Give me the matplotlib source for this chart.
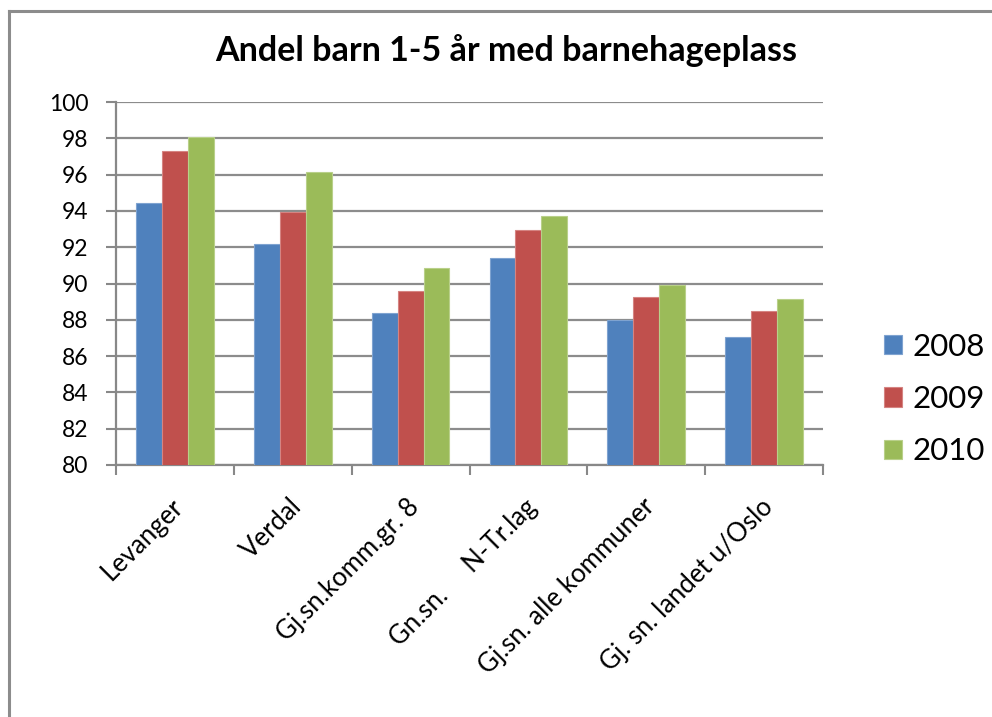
import matplotlib.pyplot as plt
import numpy as np
from matplotlib.lines import Line2D

plt.rcParams['font.family'] = ['Lato', 'DejaVu Sans']

kategorier = ["Levanger", "Verdal", "Gj.sn.komm.gr. 8", "Gn.sn.     N-Tr.lag",
              "Gj.sn. alle kommuner", "Gj. sn. landet u/Oslo"]
aar = ["2008", "2009", "2010"]
v2008 = [94.45, 92.2, 88.4, 91.4, 88.0, 87.05]
v2009 = [97.3, 93.95, 89.6, 92.95, 89.25, 88.5]
v2010 = [98.05, 96.15, 90.85, 93.7, 89.9, 89.15]
farger = ["#4F81BD", "#C0504D", "#9BBB59"]
kanter = ["#7FA3D0", "#D58482", "#B9D08A"]

fig = plt.figure(figsize=(9.92, 7.17), dpi=100)
ax = fig.add_axes([0.117, 0.3515, 0.7126, 0.5062])

x = np.arange(len(kategorier))
w = 0.22
for i, verdier in enumerate([v2008, v2009, v2010]):
    ax.bar(x + (i - 1) * w, verdier, w, color=farger[i], edgecolor=kanter[i],
           linewidth=0.8, label=aar[i], zorder=3)

ax.set_ylim(80, 100)
ax.set_xlim(-0.5, len(kategorier) - 0.5)
ax.set_yticks(range(80, 101, 2))
ax.tick_params(axis='y', labelsize=16.5, length=7, width=1.5, color='#888888', pad=13)
ax.yaxis.grid(True, color='#8c8c8c', linewidth=1.6, zorder=0)
ax.set_axisbelow(True)

ax.set_xticks(np.arange(len(kategorier) + 1) - 0.5)
ax.set_xticklabels([])
ax.tick_params(axis='x', length=7, width=1.5, color='#888888')
for xi, navn in zip(x, kategorier):
    ax.text(xi - 0.035, 78.4, navn, rotation=45, ha='right', va='top',
            rotation_mode='anchor', fontsize=18.5)

for s in ['top', 'right']:
    ax.spines[s].set_visible(False)
for s in ['left', 'bottom']:
    ax.spines[s].set_color('#888888')
    ax.spines[s].set_linewidth(1.6)

fig.text(0.510, 0.93, "Andel barn 1-5 år med barnehageplass", ha='center',
         va='center', fontsize=24.5, fontweight='bold')

ax.legend(loc='center left', bbox_to_anchor=(1.046, 0.182), frameon=False,
          fontsize=22.5, handlelength=0.58, handleheight=0.58, handletextpad=0.35,
          labelspacing=0.78)

fig.add_artist(Line2D([0.009, 0.009], [0, 0.985], color='#8c8c8c', linewidth=2.2))
fig.add_artist(Line2D([0.009, 1.0], [0.985, 0.985], color='#8c8c8c', linewidth=2.2))

fig.savefig("out.png", dpi=100)
